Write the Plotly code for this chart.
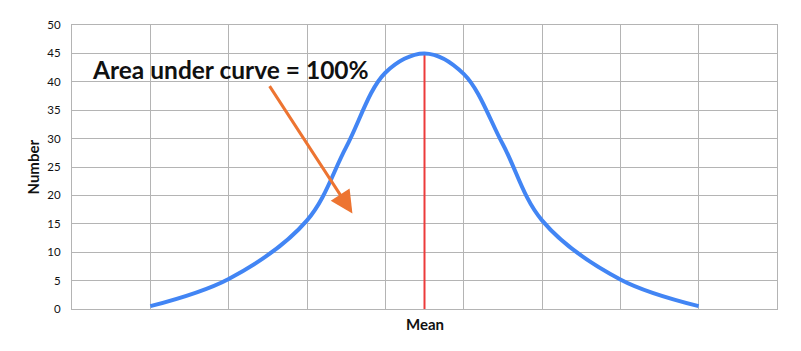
import plotly.graph_objects as go

# Data
curve_x = [1, 2, 3, 3.5, 4, 4.5, 5, 5.5, 6, 7, 8]
curve_y = [0.5, 5.3, 15.6, 28.5, 41.6, 45.0, 41.4, 29.0, 15.6, 5.2, 0.5]
mean_x = 4.5
mean_top = 45
y_ticks = [0, 5, 10, 15, 20, 25, 30, 35, 40, 45, 50]
x_grid = [0, 1, 2, 3, 4, 5, 6, 7, 8, 9]

GRID = "#b4b4b4"
FONT = "Lato"

fig = go.Figure()
fig.add_trace(go.Scatter(
    x=[mean_x, mean_x], y=[0, mean_top], mode="lines",
    line=dict(color="#ec3b3b", width=2), hoverinfo="skip", showlegend=False))
fig.add_trace(go.Scatter(
    x=curve_x, y=curve_y, mode="lines",
    line=dict(color="#4285f4", width=4, shape="spline", smoothing=1.0),
    showlegend=False))

fig.update_layout(
    width=801, height=351,
    margin=dict(l=71.5, r=24.3, t=25.3, b=41.7),
    paper_bgcolor="white", plot_bgcolor="white",
    font=dict(family=FONT, color="#111111"),
    xaxis=dict(range=[0, 9], tickvals=x_grid, showticklabels=False, showgrid=True,
               gridcolor=GRID, gridwidth=1, zeroline=False, showline=True,
               linecolor=GRID, linewidth=1, mirror=True, ticks=""),
    yaxis=dict(range=[0, 50], tickvals=y_ticks, showgrid=True, gridcolor=GRID,
               gridwidth=1, zeroline=False, showline=True, linecolor=GRID,
               linewidth=1, mirror=True, ticks="", ticklabelstandoff=8,
               tickfont=dict(family=FONT, size=11.5, color="#111111")),
)

fig.add_annotation(text="Area under curve = 100%", x=2.02, y=42.1, xref="x", yref="y",
                   xanchor="center", yanchor="middle",
                   showarrow=False, font=dict(family=FONT, size=24.5, color="#111111", weight=700))
fig.add_annotation(x=3.58, y=16.8, ax=2.51, ay=39.5, xref="x", yref="y",
                   axref="x", ayref="y", text="", showarrow=True,
                   arrowhead=2, arrowsize=1.5, arrowwidth=3, arrowcolor="#ed7431")
fig.add_annotation(text="Mean", x=mean_x, y=0, xref="x", yref="y", yanchor="top",
                   yshift=-4, showarrow=False,
                   font=dict(family=FONT, size=15, color="#111111", weight=700))
fig.add_annotation(text="Number", x=0, y=25, xref="paper", yref="y", xanchor="center",
                   xshift=-39.5, textangle=-90, showarrow=False,
                   font=dict(family=FONT, size=15, color="#111111", weight=700))

fig.write_html("out.html")
